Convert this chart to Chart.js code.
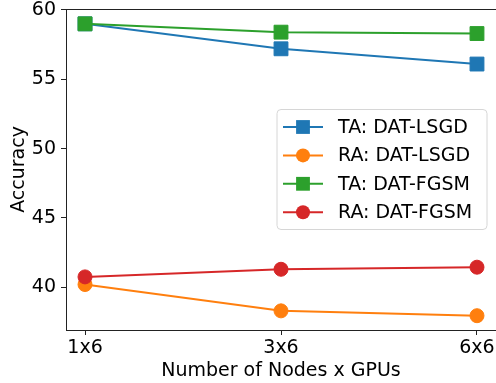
<!DOCTYPE html>
<html>
<head>
<meta charset="utf-8">
<script src="https://cdn.jsdelivr.net/npm/chart.js@4.4.0/dist/chart.umd.min.js"></script>
<style>
  html, body { margin: 0; padding: 0; background: #fff; }
  #wrap { width: 496px; height: 383px; }
</style>
</head>
<body>
<div id="wrap"><canvas id="c" width="496" height="383"></canvas></div>
<script>
// data
var categories = ['1x6', '3x6', '6x6'];
var yTicks = [40, 45, 50, 55, 60];
var taLsgd = [59.0, 57.2, 56.1];
var raLsgd = [40.2, 38.3, 37.95];
var taFgsm = [59.0, 58.4, 58.3];
var raFgsm = [40.75, 41.3, 41.45];

var FONT = 'DejaVu Sans';

function pts(vals) {
  return vals.map(function (v, i) { return { x: i, y: v }; });
}

function series(label, vals, color, shape, idx) {
  return {
    label: label,
    data: pts(vals),
    borderColor: color,
    backgroundColor: color,
    borderWidth: 2,
    pointStyle: shape,
    pointRadius: shape === 'rect' ? 9.8 : 7,
    pointBorderWidth: 1,
    pointBorderColor: color,
    pointBackgroundColor: color,
    tension: 0,
    clip: false,
    order: 3 - idx   // later series drawn on top
  };
}

// top spine (right one falls off the canvas in the original)
var framePlugin = {
  id: 'frame',
  afterDraw: function (chart) {
    var a = chart.chartArea, ctx = chart.ctx;
    ctx.save();
    ctx.strokeStyle = '#222';
    ctx.lineWidth = 1;
    ctx.beginPath();
    ctx.moveTo(a.left, a.top + 0.5);
    ctx.lineTo(a.right, a.top + 0.5);
    ctx.stroke();
    ctx.restore();
  }
};

// matplotlib style legend inside the axes
var boxLegend = {
  id: 'boxLegend',
  afterDraw: function (chart) {
    var ctx = chart.ctx;
    var x0 = 277, y0 = 109.5, w = 210, h = 120, r = 4;
    ctx.save();
    ctx.beginPath();
    ctx.roundRect(x0, y0, w, h, r);
    ctx.fillStyle = 'rgba(255,255,255,0.8)';
    ctx.fill();
    ctx.strokeStyle = '#d6d6d6';
    ctx.lineWidth = 1;
    ctx.stroke();
    ctx.font = '19px "' + FONT + '"';
    ctx.textBaseline = 'middle';
    chart.data.datasets.forEach(function (ds, i) {
      var y = 127 + i * 28.4;
      ctx.strokeStyle = ds.borderColor;
      ctx.lineWidth = 2;
      ctx.beginPath();
      ctx.moveTo(283, y);
      ctx.lineTo(323, y);
      ctx.stroke();
      ctx.fillStyle = ds.borderColor;
      if (ds.pointStyle === 'rect') {
        ctx.fillRect(303 - 6.9, y - 6.9, 13.8, 13.8);
      } else {
        ctx.beginPath();
        ctx.arc(303, y, 7, 0, Math.PI * 2);
        ctx.fill();
      }
      ctx.fillStyle = '#000';
      ctx.fillText(ds.label, 338, y + 1);
    });
    ctx.restore();
  }
};

new Chart(document.getElementById('c'), {
  type: 'line',
  data: {
    datasets: [
      series('TA: DAT-LSGD', taLsgd, '#1f77b4', 'rect', 0),
      series('RA: DAT-LSGD', raLsgd, '#ff7f0e', 'circle', 1),
      series('TA: DAT-FGSM', taFgsm, '#2ca02c', 'rect', 2),
      series('RA: DAT-FGSM', raFgsm, '#d62728', 'circle', 3)
    ]
  },
  options: {
    responsive: false,
    animation: false,
    layout: { autoPadding: false, padding: { top: 9, right: 0, left: 0, bottom: 0 } },
    plugins: {
      legend: { display: false },
      tooltip: { enabled: false }
    },
    scales: {
      x: {
        type: 'linear',
        min: -0.097,
        max: 2.097,
        afterBuildTicks: function (s) {
          s.ticks = categories.map(function (c, i) { return { value: i }; });
        },
        afterFit: function (s) {
          s.height = 53;
          s.paddingLeft = 0;
          s.paddingRight = 0;
        },
        ticks: {
          color: '#000',
          font: { family: FONT, size: 19 },
          padding: 2,
          maxRotation: 0,
          autoSkip: false,
          callback: function (v) { return categories[v]; }
        },
        grid: { drawOnChartArea: false, drawTicks: true, tickLength: 5, color: '#222' },
        border: { display: true, color: '#222', width: 1 },
        title: {
          display: true,
          text: 'Number of Nodes x GPUs',
          color: '#000',
          font: { family: FONT, size: 19 },
          padding: { top: 0, bottom: 1 }
        }
      },
      y: {
        min: 36.92,
        max: 60.07,
        afterBuildTicks: function (s) {
          s.ticks = yTicks.map(function (v) { return { value: v }; });
        },
        afterFit: function (s) {
          s.width = 66;
          s.paddingTop = 0;
          s.paddingBottom = 0;
        },
        ticks: {
          color: '#000',
          font: { family: FONT, size: 19 },
          padding: 5
        },
        grid: { drawOnChartArea: false, drawTicks: true, tickLength: 5, color: '#222' },
        border: { display: true, color: '#222', width: 1 },
        title: {
          display: true,
          text: 'Accuracy',
          color: '#000',
          font: { family: FONT, size: 19 },
          padding: { top: 8, bottom: 0 }
        }
      }
    }
  },
  plugins: [framePlugin, boxLegend]
});
</script>
</body>
</html>
